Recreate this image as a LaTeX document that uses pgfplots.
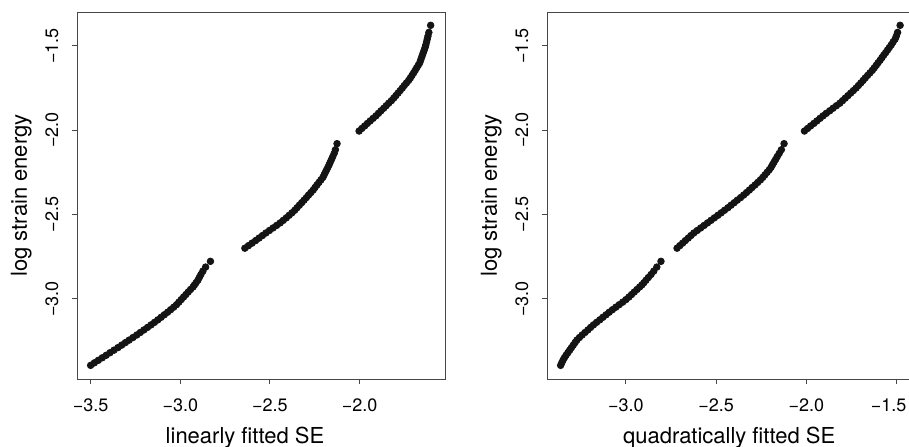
\documentclass[border=0pt]{standalone}
\usepackage{pgfplots}
\pgfplotsset{compat=1.18}
\usepackage{pgfplotstable}
\usepackage{fontspec}
\setmainfont{TeX Gyre Heros}

\pgfplotstableread{
y xL xR
-3.395 -3.500 -3.362
-3.380 -3.479 -3.356
-3.365 -3.457 -3.349
-3.350 -3.435 -3.341
-3.335 -3.413 -3.332
-3.320 -3.392 -3.322
-3.305 -3.370 -3.312
-3.290 -3.348 -3.302
-3.275 -3.327 -3.292
-3.260 -3.306 -3.282
-3.245 -3.285 -3.272
-3.230 -3.264 -3.258
-3.215 -3.243 -3.243
-3.200 -3.223 -3.227
-3.185 -3.203 -3.211
-3.170 -3.183 -3.196
-3.155 -3.163 -3.180
-3.140 -3.144 -3.163
-3.125 -3.125 -3.145
-3.110 -3.107 -3.128
-3.095 -3.089 -3.110
-3.080 -3.071 -3.093
-3.065 -3.054 -3.075
-3.050 -3.037 -3.056
-3.035 -3.021 -3.037
-3.020 -3.008 -3.018
-3.005 -2.995 -3.000
-2.990 -2.982 -2.984
-2.975 -2.969 -2.969
-2.960 -2.956 -2.954
-2.945 -2.943 -2.939
-2.930 -2.929 -2.924
-2.918 -2.921 -2.912
-2.905 -2.912 -2.901
-2.890 -2.902 -2.889
-2.874 -2.894 -2.876
-2.856 -2.885 -2.861
-2.836 -2.874 -2.846
-2.812 -2.859 -2.829
-2.778 -2.832 -2.806
-2.700 -2.640 -2.717
-2.685 -2.620 -2.702
-2.670 -2.600 -2.686
-2.655 -2.580 -2.671
-2.640 -2.561 -2.655
-2.625 -2.542 -2.640
-2.610 -2.523 -2.624
-2.595 -2.503 -2.605
-2.580 -2.483 -2.586
-2.565 -2.463 -2.567
-2.550 -2.443 -2.548
-2.535 -2.426 -2.529
-2.520 -2.409 -2.510
-2.505 -2.393 -2.491
-2.490 -2.377 -2.472
-2.475 -2.362 -2.454
-2.460 -2.349 -2.435
-2.445 -2.336 -2.418
-2.430 -2.323 -2.400
-2.415 -2.310 -2.383
-2.400 -2.297 -2.365
-2.385 -2.285 -2.348
-2.370 -2.272 -2.332
-2.355 -2.259 -2.316
-2.340 -2.249 -2.301
-2.325 -2.238 -2.285
-2.310 -2.227 -2.270
-2.295 -2.216 -2.255
-2.280 -2.205 -2.242
-2.265 -2.198 -2.230
-2.250 -2.191 -2.218
-2.235 -2.184 -2.206
-2.220 -2.177 -2.196
-2.205 -2.170 -2.188
-2.190 -2.164 -2.180
-2.174 -2.157 -2.171
-2.157 -2.150 -2.162
-2.138 -2.142 -2.151
-2.116 -2.135 -2.139
-2.080 -2.126 -2.124
-2.005 -2.003 -2.011
-1.990 -1.988 -1.994
-1.975 -1.972 -1.977
-1.960 -1.957 -1.959
-1.945 -1.941 -1.942
-1.930 -1.925 -1.925
-1.915 -1.909 -1.908
-1.900 -1.895 -1.890
-1.885 -1.881 -1.871
-1.870 -1.866 -1.853
-1.855 -1.852 -1.834
-1.840 -1.838 -1.815
-1.825 -1.823 -1.800
-1.810 -1.810 -1.785
-1.795 -1.798 -1.770
-1.780 -1.786 -1.755
-1.765 -1.774 -1.740
-1.750 -1.762 -1.725
-1.735 -1.751 -1.712
-1.720 -1.739 -1.699
-1.705 -1.727 -1.686
-1.690 -1.717 -1.674
-1.675 -1.708 -1.661
-1.660 -1.699 -1.648
-1.645 -1.690 -1.635
-1.630 -1.682 -1.624
-1.615 -1.673 -1.613
-1.600 -1.665 -1.603
-1.585 -1.660 -1.592
-1.570 -1.655 -1.582
-1.555 -1.650 -1.572
-1.540 -1.645 -1.561
-1.525 -1.640 -1.551
-1.510 -1.635 -1.541
-1.494 -1.631 -1.530
-1.477 -1.627 -1.520
-1.460 -1.623 -1.509
-1.442 -1.619 -1.502
-1.420 -1.614 -1.495
-1.378 -1.604 -1.481
}\data

\pgfplotsset{
  rstyle/.style={
    scale only axis, width=184pt, height=183.5pt,
    anchor=south west,
    ymin=-3.476, ymax=-1.299,
    axis line style={black!72, line width=0.5pt},
    tick style={black!72, line width=0.5pt},
    tick align=outside, major tick length=2.65pt,
    xtick pos=bottom, ytick pos=left,
    ytick={-3,-2.5,-2,-1.5},
    yticklabels={−3.0,−2.5,−2.0,−1.5},
    tick label style={font=\fontsize{9}{10}\selectfont},
    xticklabel style={anchor=base},
    xticklabel shift=13.35pt,
    yticklabel style={rotate=90, anchor=base},
    yticklabel shift=6.85pt,
    clip=false,
  },
  dots/.style={only marks, mark=*, mark size=1.65pt, color=black!92},
}

\begin{document}
\begin{tikzpicture}
\path[use as bounding box] (0,0) rectangle (454.5pt,223pt);
\begin{axis}[rstyle, at={(38.5pt,33.5pt)},
  xmin=-3.576, xmax=-1.524,
  xtick={-3.5,-3,-2.5,-2},
  xticklabels={−3.5,−3.0,−2.5,−2.0}]
\addplot[dots] table[x=xL, y=y] {\data};
\node[anchor=base, font=\fontsize{11}{12}\selectfont] at (axis description cs:0.4565,-0.1744) {linearly fitted SE};
\node[anchor=base, rotate=90, font=\fontsize{11}{12}\selectfont] at (axis description cs:-0.1359,0.5) {log strain energy};
\end{axis}
\begin{axis}[rstyle, at={(273.5pt,33.5pt)},
  xmin=-3.4375, xmax=-1.3985,
  xtick={-3,-2.5,-2,-1.5},
  xticklabels={−3.0,−2.5,−2.0,\makebox[0pt][c]{\kern-8pt −1.5}}]
\addplot[dots] table[x=xR, y=y] {\data};
\node[anchor=base, font=\fontsize{11}{12}\selectfont] at (axis description cs:0.495,-0.1744) {quadratically fitted SE};
\node[anchor=base, rotate=90, font=\fontsize{11}{12}\selectfont] at (axis description cs:-0.1359,0.5) {log strain energy};
\end{axis}
\end{tikzpicture}
\end{document}
